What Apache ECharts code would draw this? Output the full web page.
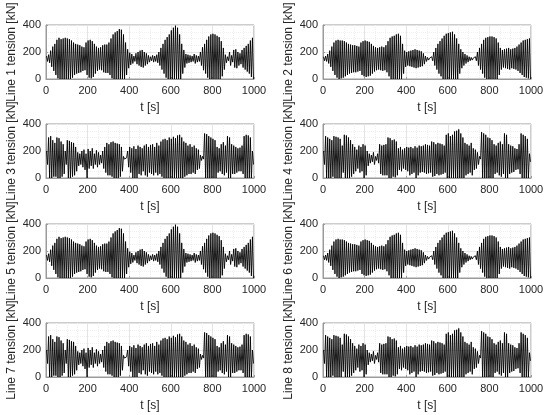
<!DOCTYPE html>
<html>
<head>
<meta charset="utf-8">
<script src="https://cdn.jsdelivr.net/npm/echarts@6/dist/echarts.min.js"></script>
<style>html,body{margin:0;padding:0;background:#fff}#c{width:550px;height:415px}</style>
</head>
<body>
<div id="c"></div>
<script>
// Per-cycle (10 s) peak and trough tension values [kN]
const cycleTimes = [0,10,20,30,40,50,60,70,80,90,100,110,120,130,140,150,160,170,180,190,200,210,220,230,240,250,260,270,280,290,300,310,320,330,340,350,360,370,380,390,400,410,420,430,440,450,460,470,480,490,500,510,520,530,540,550,560,570,580,590,600,610,620,630,640,650,660,670,680,690,700,710,720,730,740,750,760,770,780,790,800,810,820,830,840,850,860,870,880,890,900,910,920,930,940,950,960,970,980,990];

const line1Max = [170,180,210,240,260,290,305,295,300,305,300,295,285,270,260,255,250,240,235,270,285,290,280,260,240,230,235,250,255,255,270,300,330,345,355,370,365,330,270,220,195,185,170,190,200,210,215,200,190,175,165,175,170,180,200,230,260,290,310,330,360,380,395,380,330,260,215,185,180,175,170,185,175,170,200,235,260,290,315,330,335,330,320,310,280,230,180,165,200,175,215,220,200,190,215,230,245,260,285,305];
const line1Min = [130,120,90,60,30,5,0,0,0,0,0,0,10,30,40,45,50,60,65,30,10,5,15,40,60,70,65,50,45,45,30,5,0,0,0,0,0,0,30,80,105,115,130,110,100,90,85,100,110,125,135,125,130,120,100,70,40,10,0,0,0,0,0,0,0,40,85,115,120,125,130,115,125,130,100,65,40,10,0,0,0,0,0,0,20,70,120,135,100,125,85,80,100,110,85,70,55,40,15,0];

const line2Max = [165,170,185,210,240,270,285,290,285,285,280,270,260,255,250,250,245,240,270,280,285,280,275,260,245,235,230,235,240,235,250,280,305,315,320,330,335,320,260,210,200,205,210,215,220,215,210,205,190,170,160,155,165,200,230,260,280,300,320,335,340,345,350,330,300,260,220,200,185,175,165,160,155,165,200,230,260,290,305,310,315,315,310,300,270,230,215,220,225,230,220,225,230,240,255,270,285,290,295,300];
const line2Min = [135,130,115,90,60,30,10,0,5,10,20,30,40,45,50,50,55,60,30,20,15,20,25,40,55,65,70,65,60,65,50,20,0,0,0,0,0,0,40,90,100,95,90,85,80,85,90,95,110,130,140,145,135,100,70,40,20,0,0,0,0,0,0,0,0,40,80,100,115,125,135,140,145,135,100,70,40,10,0,0,0,0,0,0,30,70,85,80,75,70,80,75,70,60,45,30,15,10,5,0];

const line3Max = [200,300,310,280,260,300,295,270,250,200,280,275,265,260,230,190,180,200,210,180,215,200,220,180,205,190,170,200,230,260,250,265,270,260,255,250,230,160,150,200,230,220,235,215,240,230,220,240,250,230,245,250,230,260,240,270,285,290,280,300,290,305,295,315,320,300,270,260,240,250,230,240,220,210,170,160,330,325,310,300,290,280,230,220,250,265,240,310,300,250,240,230,220,225,240,310,320,315,300,200];
const line3Min = [100,0,0,10,10,0,0,10,30,100,0,0,10,20,50,90,100,80,60,0,70,90,70,100,80,100,110,70,40,20,20,10,0,0,0,10,50,140,150,80,40,0,0,0,30,20,50,20,10,40,30,20,40,20,30,10,0,0,0,0,0,0,0,0,0,0,10,20,30,30,40,30,60,70,130,140,0,0,0,0,0,0,40,50,30,20,40,0,0,30,30,40,50,50,30,0,0,0,0,100];

const line4Max = [200,310,300,290,280,310,305,300,290,240,320,315,300,280,250,230,210,240,230,250,240,200,180,170,190,160,180,250,240,245,250,300,295,280,285,270,220,230,210,220,230,225,230,220,235,225,240,235,240,250,245,240,270,265,250,260,255,250,240,320,330,310,320,345,350,360,330,300,260,250,240,260,220,210,190,160,340,330,320,300,295,280,250,240,260,270,250,330,320,250,240,235,220,215,250,330,320,310,290,180];
const line4Min = [100,0,0,0,10,0,0,0,0,40,0,0,0,10,30,50,70,40,50,0,20,90,110,120,100,130,110,30,20,20,20,0,0,10,5,20,60,50,70,60,50,20,30,40,0,20,40,45,40,30,35,40,10,15,30,20,25,30,40,0,0,0,0,0,0,0,0,0,20,30,40,20,60,70,100,140,0,0,0,0,0,0,30,40,20,10,30,0,0,30,40,45,60,65,30,0,0,0,0,120];

// Lines 5-8 read as the same records as lines 1-4
const line5Max = line1Max, line5Min = line1Min;
const line6Max = line2Max, line6Min = line2Min;
const line7Max = line3Max, line7Min = line3Min;
const line8Max = line4Max, line8Min = line4Min;

const xTicks = [0, 200, 400, 600, 800, 1000];
const yTicks = [0, 200, 400];
const panelNames = ['Line 1 tension [kN]','Line 2 tension [kN]','Line 3 tension [kN]','Line 4 tension [kN]','Line 5 tension [kN]','Line 6 tension [kN]','Line 7 tension [kN]','Line 8 tension [kN]'];
const panelData = [[line1Max,line1Min],[line2Max,line2Min],[line3Max,line3Min],[line4Max,line4Min],[line5Max,line5Min],[line6Max,line6Min],[line7Max,line7Min],[line8Max,line8Min]];

function build(maxArr, minArr) {
  const out = [];
  for (let i = 0; i < cycleTimes.length; i++) {
    out.push([cycleTimes[i] + 2.5, maxArr[i]]);
    out.push([cycleTimes[i] + 7.5, minArr[i]]);
  }
  return out;
}

const FONT = 'Liberation Sans';
const TXT = '#262626';
const lefts = [46, 323];
const tops = [25, 124, 224, 323];
const grids = [], xAxes = [], yAxes = [], series = [];
for (let p = 0; p < 8; p++) {
  const r = Math.floor(p / 2), c = p % 2;
  grids.push({left: lefts[c], top: tops[r], width: 208, height: 54, show: true, borderColor: '#9a9a9a', borderWidth: 1, backgroundColor: '#fff'});
  xAxes.push({
    type: 'value', gridIndex: p, min: xTicks[0], max: xTicks[xTicks.length-1], interval: 200,
    name: 't [s]', nameLocation: 'middle', nameGap: 23,
    nameTextStyle: {fontFamily: FONT, fontSize: 12, color: TXT},
    axisLine: {show: true, onZero: false, lineStyle: {color: '#9a9a9a'}},
    axisTick: {show: true, inside: true, length: 2, lineStyle: {color: '#9a9a9a'}},
    axisLabel: {fontFamily: FONT, fontSize: 11, color: TXT, margin: 6, formatter: v => String(v)},
    splitLine: {show: true, lineStyle: {color: '#e4e4e4', width: 1}},
    minorTick: {show: false, splitNumber: 4},
    minorSplitLine: {show: true, lineStyle: {color: '#f0f0f0', width: 1, type: 'dotted'}}
  });
  yAxes.push({
    type: 'value', gridIndex: p, min: yTicks[0], max: yTicks[yTicks.length-1], interval: 200,
    name: panelNames[p], nameLocation: 'middle', nameGap: 28, nameRotate: 90,
    nameTextStyle: {fontFamily: FONT, fontSize: 12, color: TXT},
    axisLine: {show: true, lineStyle: {color: '#9a9a9a'}},
    axisTick: {show: true, inside: true, length: 2, lineStyle: {color: '#9a9a9a'}},
    axisLabel: {fontFamily: FONT, fontSize: 11, color: TXT, margin: 5, formatter: v => String(v)},
    splitLine: {show: true, lineStyle: {color: '#e4e4e4', width: 1}},
    minorTick: {show: false, splitNumber: 4},
    minorSplitLine: {show: true, lineStyle: {color: '#f0f0f0', width: 1, type: 'dotted'}}
  });
  series.push({
    type: 'line', xAxisIndex: p, yAxisIndex: p, data: build(panelData[p][0], panelData[p][1]),
    showSymbol: false, symbol: 'none', sampling: null, animation: false,
    lineStyle: {color: '#000', width: 0.9}, silent: true
  });
}
const chart = echarts.init(document.getElementById('c'), null, {renderer: 'canvas'});
chart.setOption({animation: false, grid: grids, xAxis: xAxes, yAxis: yAxes, series: series});
</script>
</body>
</html>
